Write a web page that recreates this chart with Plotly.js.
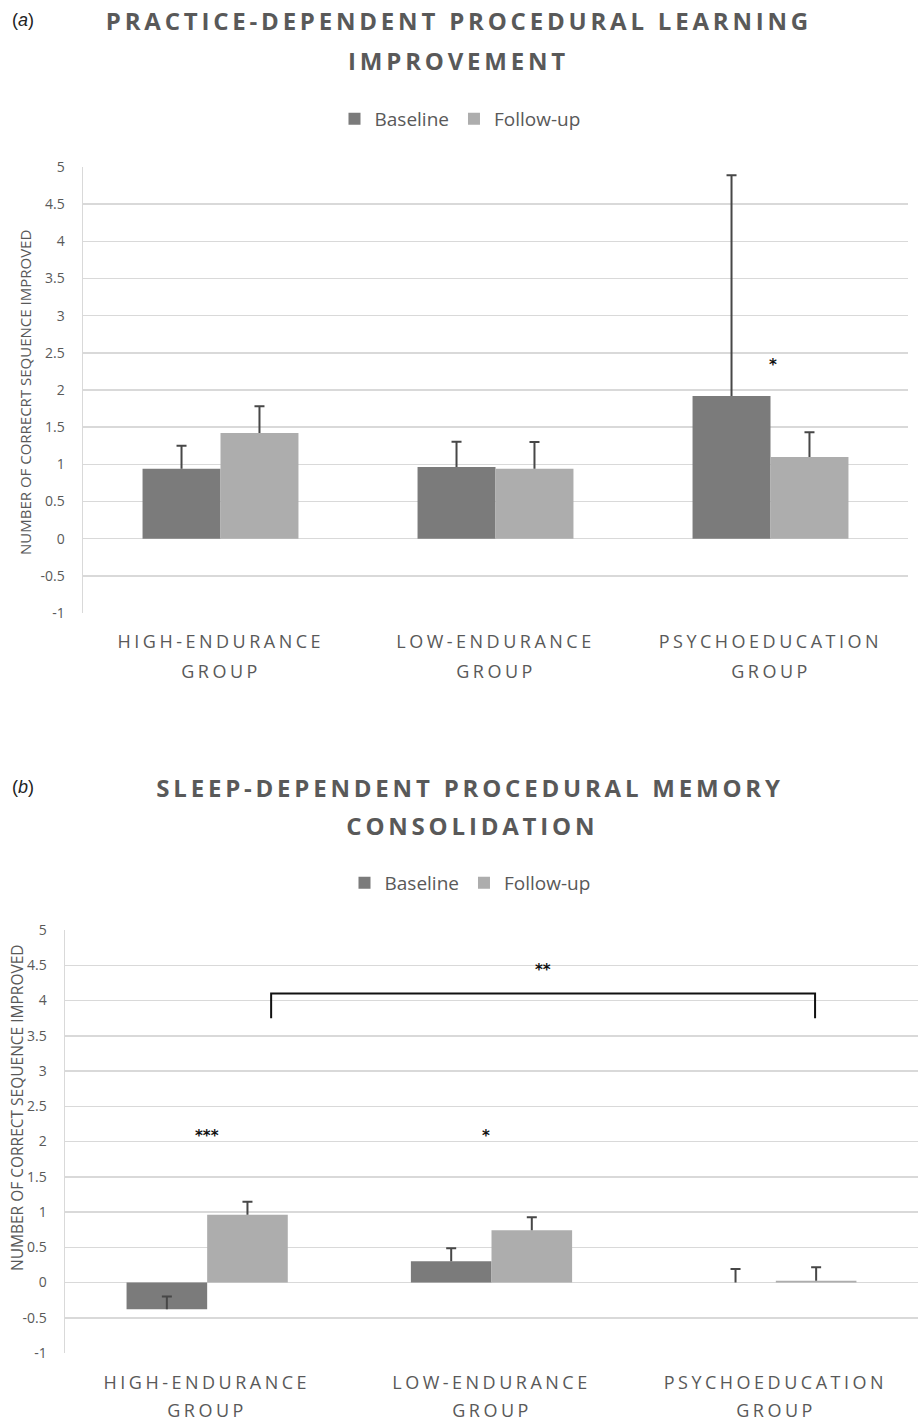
<!DOCTYPE html>
<html>
<head>
<meta charset="utf-8">
<script src="https://cdn.plot.ly/plotly-3.0.1.min.js"></script>
<style>html,body{margin:0;padding:0;background:#fff;}#chart{width:918px;height:1421px;}</style>
</head>
<body>
<div id="chart"></div>
<script>
// ---- data ----
const categories = ['HIGH-ENDURANCE GROUP', 'LOW-ENDURANCE GROUP', 'PSYCHOEDUCATION GROUP'];
const seriesNames = ['Baseline', 'Follow-up'];

// panel (a) practice-dependent learning
const baselineA = [0.94, 0.965, 1.92];
const baselineErrA = [0.31, 0.34, 2.97];
const followA = [1.42, 0.94, 1.10];
const followErrA = [0.36, 0.36, 0.33];

// panel (b) sleep-dependent consolidation
const baselineB = [-0.38, 0.30, 0.0];
const baselineErrB = [0.18, 0.185, 0.19];
const followB = [0.96, 0.74, 0.025];
const followErrB = [0.185, 0.185, 0.19];

const tickVals = [-1, -0.5, 0, 0.5, 1, 1.5, 2, 2.5, 3, 3.5, 4, 4.5, 5];
const tickText = tickVals.map(String);

// significance markers: [x (category index), y, text]
const starsA = [[2.01, 2.34, '*']];
const starsB = [[0.0, 2.08, '***'], [0.98, 2.08, '*'], [1.18, 4.43, '**']];
const bracketB = {x0: 0.225, x1: 2.138, y: 4.1, drop: 0.35};

// ---- layout helpers ----
const W = 918, H = 1421;
const px = x => x / W;
const py = y => 1 - y / H;
const grey = '#595959';
const FONT = 'Open Sans, Liberation Sans, sans-serif';

function bar(y, err, name, color, xa, ya, lg, show) {
  return {
    type: 'bar', x: categories, y: y, name: name, legend: lg, showlegend: show,
    xaxis: xa, yaxis: ya,
    marker: {color: color, line: {width: 0}},
    error_y: {type: 'data', symmetric: false, array: err, arrayminus: err.map(() => 0),
              color: '#474747', thickness: 2, width: 5},
    hoverinfo: 'skip'
  };
}

const cBase = '#7b7b7b', cFollow = '#adadad';
const data = [
  bar(baselineA, baselineErrA, seriesNames[0], cBase, 'x', 'y', 'legend', true),
  bar(followA, followErrA, seriesNames[1], cFollow, 'x', 'y', 'legend', true),
  bar(baselineB, baselineErrB, seriesNames[0], cBase, 'x2', 'y2', 'legend2', true),
  bar(followB, followErrB, seriesNames[1], cFollow, 'x2', 'y2', 'legend2', true)
];

function yax(domain) {
  return {
    domain: domain, range: [-1, 5], tickmode: 'array', tickvals: tickVals, ticktext: tickText,
    showgrid: true, gridcolor: '#d9d9d9', gridwidth: 1.5, zeroline: false,
    showline: true, linecolor: '#d9d9d9', linewidth: 1.5, ticks: '',
    ticklabelstandoff: 14,
    tickfont: {family: FONT, size: 14, color: grey}, fixedrange: true
  };
}
function xax(domain, anchor) {
  return {
    domain: domain, anchor: anchor, type: 'category', range: [-0.5, 2.5],
    showgrid: false, zeroline: false, showline: false, showticklabels: false, ticks: '', fixedrange: true
  };
}

const annotations = [];
const spaced = [];
function ann(o, spacing) {
  annotations.push(Object.assign({showarrow: false, xref: 'paper', yref: 'paper', xanchor: 'center', yanchor: 'middle'}, o));
  if (spacing) spaced.push([annotations.length - 1, spacing]);
}
const titleFont = {family: FONT, size: 24, color: grey, weight: 700};
// panel labels
ann({text: '(<i>a</i>)', x: px(23), y: py(20), font: {family: 'Liberation Sans, Arial, sans-serif', size: 18, color: '#222'}});
ann({text: '(<i>b</i>)', x: px(23), y: py(787), font: {family: 'Liberation Sans, Arial, sans-serif', size: 18, color: '#222'}});
// titles
ann({text: 'PRACTICE-DEPENDENT PROCEDURAL LEARNING', x: px(459), y: py(20), font: titleFont}, '3.8px');
ann({text: 'IMPROVEMENT', x: px(458), y: py(60), font: titleFont}, '3.8px');
ann({text: 'SLEEP-DEPENDENT PROCEDURAL MEMORY', x: px(470), y: py(787), font: titleFont}, '3.8px');
ann({text: 'CONSOLIDATION', x: px(472), y: py(826), font: titleFont}, '3.8px');
// y-axis titles
ann({text: 'NUMBER OF CORRECRT SEQUENCE IMPROVED', x: px(25), y: py(393), textangle: -90, font: {family: FONT, size: 15, color: grey}});
ann({text: 'NUMBER OF CORRECT SEQUENCE IMPROVED', x: px(17), y: py(1108), textangle: -90, font: {family: FONT, size: 15.5, color: grey}});
// category labels (two lines each)
const catFont = {family: FONT, size: 18, color: grey};
categories.forEach(c => {
  const i = c.lastIndexOf(' ');
  const l1 = c.slice(0, i), l2 = c.slice(i + 1);
  ann({text: l1, x: c, xref: 'x', y: py(641), font: catFont}, '3.5px');
  ann({text: l2, x: c, xref: 'x', y: py(671), font: catFont}, '3.5px');
  ann({text: l1, x: c, xref: 'x2', y: py(1382), font: catFont}, '3.5px');
  ann({text: l2, x: c, xref: 'x2', y: py(1410), font: catFont}, '3.5px');
});
// stars
const starFont = {family: 'DejaVu Sans, sans-serif', size: 15, color: '#111', weight: 700};
starsA.forEach(s => ann({text: s[2], x: s[0], y: s[1], xref: 'x', yref: 'y', font: starFont}));
starsB.forEach(s => ann({text: s[2], x: s[0], y: s[1], xref: 'x2', yref: 'y2', font: starFont}));

const shapes = [{
  type: 'path', xref: 'x2', yref: 'y2',
  path: `M ${bracketB.x0} ${bracketB.y - bracketB.drop} L ${bracketB.x0} ${bracketB.y} L ${bracketB.x1} ${bracketB.y} L ${bracketB.x1} ${bracketB.y - bracketB.drop}`,
  line: {color: '#111', width: 2}
}];

const legendBase = {orientation: 'h', xanchor: 'center', yanchor: 'middle',
  font: {family: FONT, size: 19, color: grey}, itemwidth: 30, traceorder: 'normal', bgcolor: 'rgba(0,0,0,0)'};

const layout = {
  width: W, height: H, margin: {l: 0, r: 0, t: 0, b: 0},
  paper_bgcolor: '#fff', plot_bgcolor: '#fff',
  barmode: 'group', bargap: 0.433, bargroupgap: 0,
  xaxis: xax([px(83), px(908)], 'y'),
  yaxis: yax([py(613), py(167)]),
  xaxis2: xax([px(65), 1], 'y2'),
  yaxis2: Object.assign(yax([py(1353), py(930)]), {anchor: 'x2'}),
  legend: Object.assign({x: px(460), y: py(119)}, legendBase),
  legend2: Object.assign({x: px(470), y: py(883)}, legendBase),
  annotations: annotations, shapes: shapes, showlegend: true
};
layout.yaxis.anchor = 'x';

Plotly.newPlot('chart', data, layout, {staticPlot: true, displayModeBar: false}).then(() => {
  spaced.forEach(([i, sp]) => {
    const g = document.querySelector(`g.annotation[data-index="${i}"] text`);
    if (g) g.style.letterSpacing = sp;
  });
  // one-sided error bars: keep only the outer cap
  document.querySelectorAll('g.errorbar path.yerror').forEach(p => {
    const d = p.getAttribute('d') || '';
    p.setAttribute('d', d.replace(/m-[\d.e+-]+,0h[\d.e+-]+$/, ''));
  });
});
</script>
</body>
</html>
